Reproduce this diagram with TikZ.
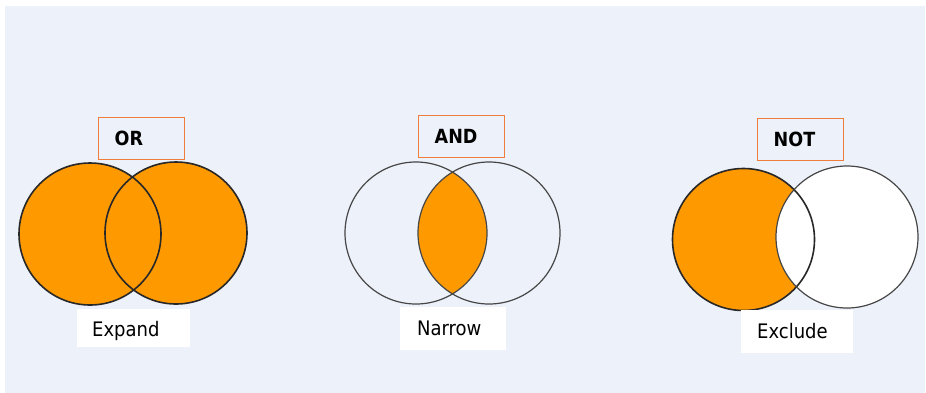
\documentclass[tikz,border=0pt]{standalone}
\usepackage{fontspec}
\setmainfont{DejaVu Sans Condensed}
\definecolor{bgpanel}{RGB}{237,241,249}
\definecolor{vorange}{RGB}{255,153,0}
\definecolor{boxline}{RGB}{240,125,60}
\definecolor{dkline}{RGB}{40,40,40}
\definecolor{gyline}{RGB}{70,70,70}
\begin{document}
\begin{tikzpicture}[x=1pt,y=-1pt,
  opbox/.style={draw=boxline,line width=1.4pt,fill=bgpanel,minimum height=42pt,
    text width=54pt,inner xsep=16pt,inner ysep=0pt,align=left,font=\fontsize{19.5}{22}\selectfont\bfseries,anchor=north west},
  capbox/.style={fill=white,inner xsep=0pt,inner ysep=0pt,align=left,anchor=north west},
  captxt/.style={font=\fontsize{20}{22}\selectfont,anchor=base west,inner sep=0pt},
  venn/.style={circle,minimum size=142pt,inner sep=0pt,outer sep=0pt},
  blk/.style={draw=dkline,line width=1.6pt},
  gry/.style={draw=gyline,line width=1.2pt}]
\useasboundingbox (0,0) rectangle (926,392);
\fill[white] (0,0) rectangle (926,392);
\fill[bgpanel] (5,6) rectangle (925,400);

% ---------- OR ----------
\node[venn] (orL) at (90,234) {};
\node[venn] (orR) at (176,233) {};
\fill[vorange] (orL.center) circle[radius=71pt];
\fill[vorange] (orR.center) circle[radius=71pt];
\draw[blk] (orL.center) circle[radius=71pt];
\draw[blk] (orR.center) circle[radius=71pt];
\node[opbox] (orbox) at (98,117) {OR};
\node[capbox,minimum width=113pt,minimum height=38pt] (expbox) at (77,309) {};
\node[captxt] (exptxt) at (92,336) {Expand};

% ---------- AND ----------
\node[venn] (andL) at (416,233) {};
\node[venn] (andR) at (489,233) {};
\begin{scope}
  \clip (andL.center) circle[radius=71pt];
  \fill[vorange] (andR.center) circle[radius=71pt];
\end{scope}
\draw[gry] (andL.center) circle[radius=71pt];
\draw[gry] (andR.center) circle[radius=71pt];
\node[opbox] (andbox) at (418,115) {AND};
\node[capbox,minimum width=106pt,minimum height=43pt] (narbox) at (400,307) {};
\node[captxt] (nartxt) at (417,335) {Narrow};

% ---------- NOT ----------
\node[venn] (notL) at (743.5,239.5) {};
\node[venn] (notR) at (847,237) {};
\fill[vorange] (notL.center) circle[radius=71pt];
\fill[white] (notR.center) circle[radius=71pt];
\draw[blk] (notL.center) circle[radius=71pt];
\draw[gry] (notR.center) circle[radius=71pt];
\node[opbox] (notbox) at (757,118) {NOT};
\node[capbox,minimum width=112pt,minimum height=43pt] (excbox) at (741,310) {};
\node[captxt] (exctxt) at (757,338) {Exclude};
\end{tikzpicture}
\end{document}
